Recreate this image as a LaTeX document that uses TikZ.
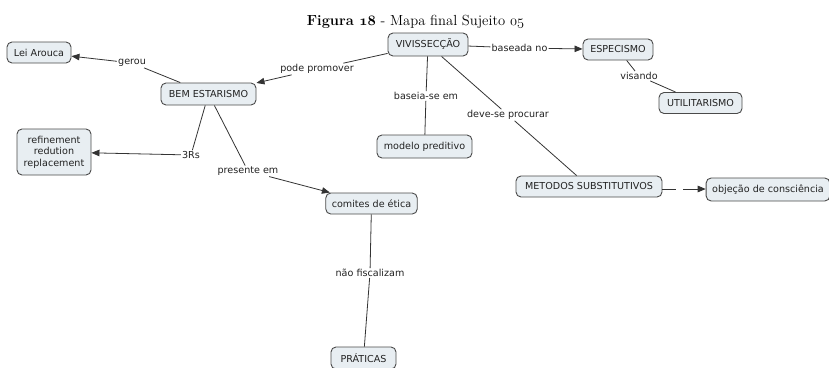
\documentclass[tikz,border=0pt]{standalone}
\usepackage{fontspec}
\newfontfamily\mapfont{DejaVu Sans}
\usetikzlibrary{arrows.meta}
\definecolor{boxfill}{HTML}{E8EEF2}
\definecolor{boxline}{HTML}{4A4A4A}
\definecolor{linkcol}{HTML}{333333}
\definecolor{txt}{HTML}{222222}
% old-style figures taken from the math italic font
\newcommand\osf[1]{\ensuremath{\mathnormal{#1}}}
\begin{document}
\begin{tikzpicture}[x=1pt,y=-1pt,
  concept/.style={draw=boxline, line width=0.9pt, fill=boxfill, rounded corners=5pt,
    font=\mapfont\fontsize{9.6}{11.5}\selectfont, text=txt, inner xsep=6pt, inner ysep=3pt,
    minimum height=21pt, align=center},
  link/.style={fill=white, font=\mapfont\fontsize{9.6}{11.5}\selectfont, text=txt, inner sep=1pt},
  conn/.style={draw=linkcol, line width=0.8pt},
  arr/.style={conn, -{Triangle[length=8pt,width=6.5pt]}}]
\useasboundingbox (0,0) rectangle (829,367);
\begin{scope}
\clip (0,0) rectangle (829,367);

% title
\node[anchor=base, font=\fontsize{14.6}{16}\selectfont, inner sep=0pt] (title) at (415.5,25)
  {\textbf{Figura {\boldmath\osf{18}}} - Mapa final Sujeito \osf{05}};

% concepts
\node[concept, minimum width=64pt] (lei) at (39,52.5) {Lei Arouca};
\node[concept, minimum width=80pt, minimum height=23pt] (viv) at (428,44.5) {VIVISSECÇÃO};
\node[concept, minimum width=95pt, minimum height=22pt] (bem) at (208.5,94) {BEM ESTARISMO};
\node[concept, minimum width=70pt] (esp) at (618,49.5) {ESPECISMO};
\node[concept, minimum width=83pt] (uti) at (700.5,103) {UTILITARISMO};
\node[concept, minimum width=95pt, minimum height=23pt] (mod) at (424.5,146.5) {modelo preditivo};
\node[concept, minimum width=74pt, minimum height=46pt] (rrr) at (54,152) {refinement\\redution\\replacement};
\node[concept, minimum width=91pt] (com) at (371.5,203.5) {comites de ética};
\node[concept, minimum width=146pt] (met) at (589,186.5) {METODOS SUBSTITUTIVOS};
\node[concept, minimum width=120pt, minimum height=23pt] (obj) at (768,189.5) {objeção de consciência};
\node[concept, minimum width=65pt, minimum height=22pt] (pra) at (363.5,358) {PRÁTICAS};

% linking phrases
\node[link] (l1) at (132,63) {gerou};
\node[link] (l2) at (317,69) {pode promover};
\node[link] (l3) at (519.5,48) {baseada no};
\node[link] (l4) at (639,76) {visando};
\node[link] (l5) at (426,96) {baseia-se em};
\node[link] (l6) at (508,115) {deve-se procurar};
\node[link] (l7) at (191,155) {3Rs};
\node[link] (l8) at (248,171) {presente em};
\node[link] (l9) at (370,273) {não fiscalizam};
\coordinate (g1) at (676,189);
\coordinate (g2) at (683,189);

% connectors
\draw[conn] (bem) -- (l1); \draw[arr] (l1) -- (lei);
\draw[conn] (viv) -- (l2); \draw[arr] (l2) -- (bem);
\draw[conn] (viv) -- (l3); \draw[arr] (l3) -- (esp);
\draw[conn] (esp) -- (l4); \draw[conn] (l4) -- (uti);
\draw[conn] (viv) -- (l5); \draw[conn] (l5) -- (mod);
\draw[conn] (viv) -- (l6); \draw[conn] (l6) -- (met);
\draw[conn] (bem) -- (l7); \draw[arr] (l7) -- (rrr);
\draw[conn] (bem) -- (l8); \draw[arr] (l8) -- (com);
\draw[conn] (com) -- (l9); \draw[conn] (l9) -- (pra);
\draw[conn] (met.east |- g1) -- (g1); \draw[arr] (g2) -- (obj.west |- g2);
\end{scope}
\end{tikzpicture}
\end{document}
